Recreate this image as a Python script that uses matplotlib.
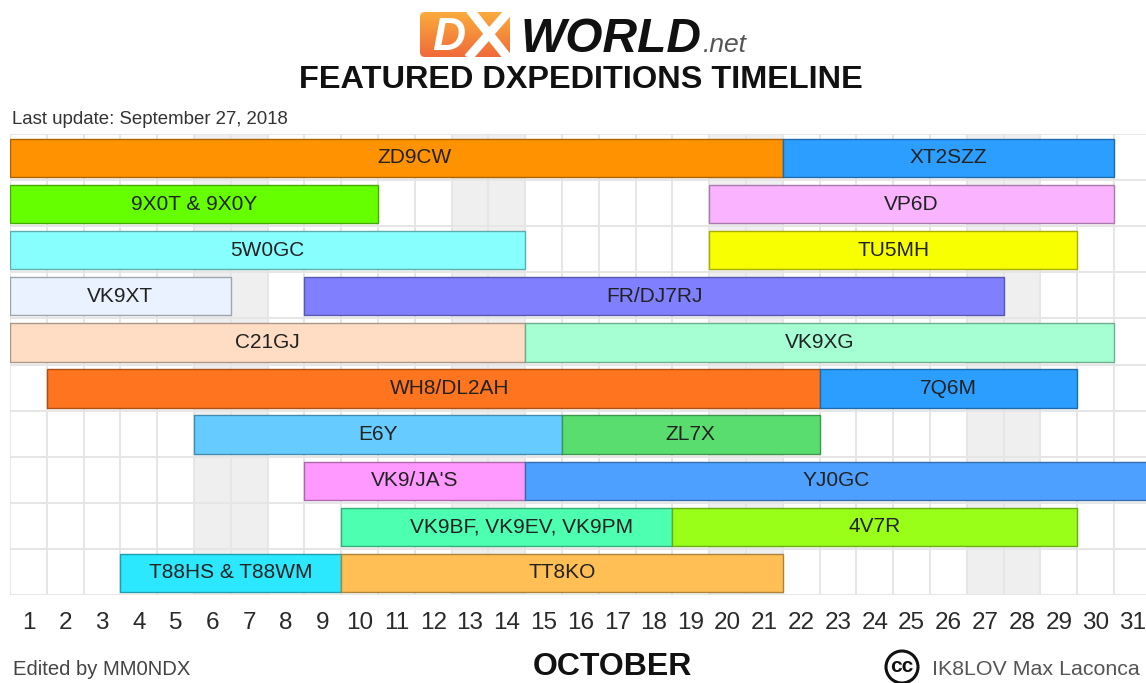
# plot.py - DXpeditions timeline (Gantt style)
import numpy as np
import matplotlib
matplotlib.use("Agg")
import matplotlib.pyplot as plt
from matplotlib.colors import LinearSegmentedColormap, to_rgb
from matplotlib.patches import Circle, FancyBboxPatch

plt.rcParams["font.family"] = ["Liberation Sans", "DejaVu Sans"]

W, H = 1146, 683
DAY_PX = 36.8

labels = ["ZD9CW", "XT2SZZ", "9X0T & 9X0Y", "VP6D", "5W0GC", "TU5MH", "VK9XT", "FR/DJ7RJ",
          "C21GJ", "VK9XG", "WH8/DL2AH", "7Q6M", "E6Y", "ZL7X", "VK9/JA'S", "YJ0GC",
          "VK9BF, VK9EV, VK9PM", "4V7R", "T88HS & T88WM", "TT8KO"]
rows = [0, 0, 1, 1, 2, 2, 3, 3, 4, 4, 5, 5, 6, 6, 7, 7, 8, 8, 9, 9]
# first and last day covered by each bar
first_day = [1, 22, 1, 20, 1, 20, 1, 9, 1, 15, 2, 23, 6, 16, 9, 15, 10, 19, 4, 10]
last_day = [21, 30, 10, 30, 14, 29, 6, 27, 14, 30, 22, 29, 15, 22, 14, 31, 18, 29, 9, 21]
# a few labels are not centred on their bar
label_pos = {"ZD9CW": 11.0, "WH8/DL2AH": 11.95, "YJ0GC": 22.45, "VK9BF, VK9EV, VK9PM": 13.9}
colors = ["#FF9200", "#2B9EFF", "#66FF00", "#F9B3FF", "#88FFFF", "#F8FF00", "#EAF2FF", "#8080FF",
          "#FFDDC4", "#A5FFD2", "#FF751F", "#2B9EFF", "#66CCFF", "#59DD6E", "#FF99FF", "#4DA0FF",
          "#4DFFB0", "#99FF19", "#2BE8FF", "#FFBF55"]
days = list(range(1, 32))
weekend_days = [6, 7, 13, 14, 20, 21, 27, 28]
N_ROWS = 10


def px_axes(fig, x0, y0, x1, y1):
    # axes placed by pixel box, y counted from the top
    return fig.add_axes([x0 / W, 1 - y1 / H, (x1 - x0) / W, (y1 - y0) / H])


def darker(color, f=0.68):
    return tuple(c * f for c in to_rgb(color))


def draw_timeline(ax):
    ax.set_xlim(0, (W - 10) / DAY_PX)
    ax.set_ylim(N_ROWS, 0)
    for d in weekend_days:
        ax.axvspan(d - 1, d, color="#EFEFEF", lw=0, zorder=0)
    for d in range(0, 32):
        ax.axvline(d, color="#E6E6E6", lw=1.4, zorder=1)
    for r in range(0, N_ROWS + 1):
        ax.axhline(r, color="#E6E6E6", lw=1.4, zorder=1)

    for lab, r, a, b, c in zip(labels, rows, first_day, last_day, colors):
        ax.barh(r + 0.52, b - a + 1, left=a - 1, height=0.83, color=c,
                edgecolor=darker(c), lw=1.0, zorder=2)
        mid = label_pos.get(lab, (a - 1 + b) / 2)
        ax.text(mid, r + 0.52, lab, ha="center", va="center", fontsize=15,
                color="#222222", zorder=3)

    ax.set_xticks([d - 0.5 for d in days])
    ax.set_xticklabels(days, fontsize=17.5, color="#2A2A2A")
    ax.tick_params(axis="x", length=0, pad=12)
    ax.set_yticks([])
    for s in ax.spines.values():
        s.set_visible(False)


def draw_logo(fig):
    ax = px_axes(fig, 0, 0, W, 64)
    cmap = LinearSegmentedColormap.from_list("logo", ["#FBAE3C", "#F0693A"])
    grad = np.linspace(0, 1, 64).reshape(-1, 1)
    im = ax.imshow(grad, extent=(418, 512, 58, 10), cmap=cmap, aspect="auto", zorder=1)
    ax.set_xlim(0, W)
    ax.set_ylim(64, 0)
    ax.axis("off")
    box = FancyBboxPatch((420, 12), 90, 45, boxstyle="round,pad=0,rounding_size=5",
                         fc="none", ec="none", transform=ax.transData)
    ax.add_patch(box)
    im.set_clip_path(box)
    # the X is two white strokes over the orange box
    ax.plot([470, 508], [10, 58], color="white", lw=6.5, solid_capstyle="butt", zorder=2)
    ax.plot([510, 468], [10, 58], color="white", lw=6.5, solid_capstyle="butt", zorder=2)
    ax.text(449, 50, "D", color="white", fontsize=33, fontweight="bold", style="italic",
            ha="center", va="baseline", zorder=3)
    ax.text(521, 52, "WORLD", color="#111111", fontsize=34.5, fontweight="bold", style="italic",
            ha="left", va="baseline", zorder=3)
    ax.text(703, 52, ".net", color="#555555", fontsize=19, style="italic",
            ha="left", va="baseline", zorder=3)


def draw_texts(fig):
    fig.text(581 / W, 1 - 80.5 / H, "FEATURED DXPEDITIONS TIMELINE", ha="center", va="center",
             fontsize=23.4, fontweight="bold", color="#111111")
    fig.text(12 / W, 1 - 119.5 / H, "Last update: September 27, 2018", ha="left", va="center",
             fontsize=13.4, color="#333333")
    fig.text(13 / W, 1 - 669.5 / H, "Edited by MM0NDX", ha="left", va="center",
             fontsize=14.6, color="#444444")
    fig.text(612 / W, 1 - 667 / H, "OCTOBER", ha="center", va="center",
             fontsize=23, fontweight="bold", color="#111111")
    fig.text(932 / W, 1 - 669.5 / H, "IK8LOV Max Laconca", ha="left", va="center",
             fontsize=15.4, color="#555555")

    ax = px_axes(fig, 880, 645, 925, 683)
    ax.set_xlim(880, 925)
    ax.set_ylim(683, 645)
    ax.set_aspect("equal")
    ax.axis("off")
    ax.add_patch(Circle((902, 667), 16, fc="white", ec="#111111", lw=2.2))
    ax.text(902, 667, "cc", ha="center", va="center", fontsize=15, fontweight="bold",
            color="#111111")


def main():
    fig = plt.figure(figsize=(W / 100, H / 100), dpi=100, facecolor="white")
    ax = px_axes(fig, 10, 134, W, 595)
    draw_timeline(ax)
    draw_logo(fig)
    draw_texts(fig)
    fig.savefig("out.png", dpi=100)
    plt.close(fig)


if __name__ == "__main__":
    main()
